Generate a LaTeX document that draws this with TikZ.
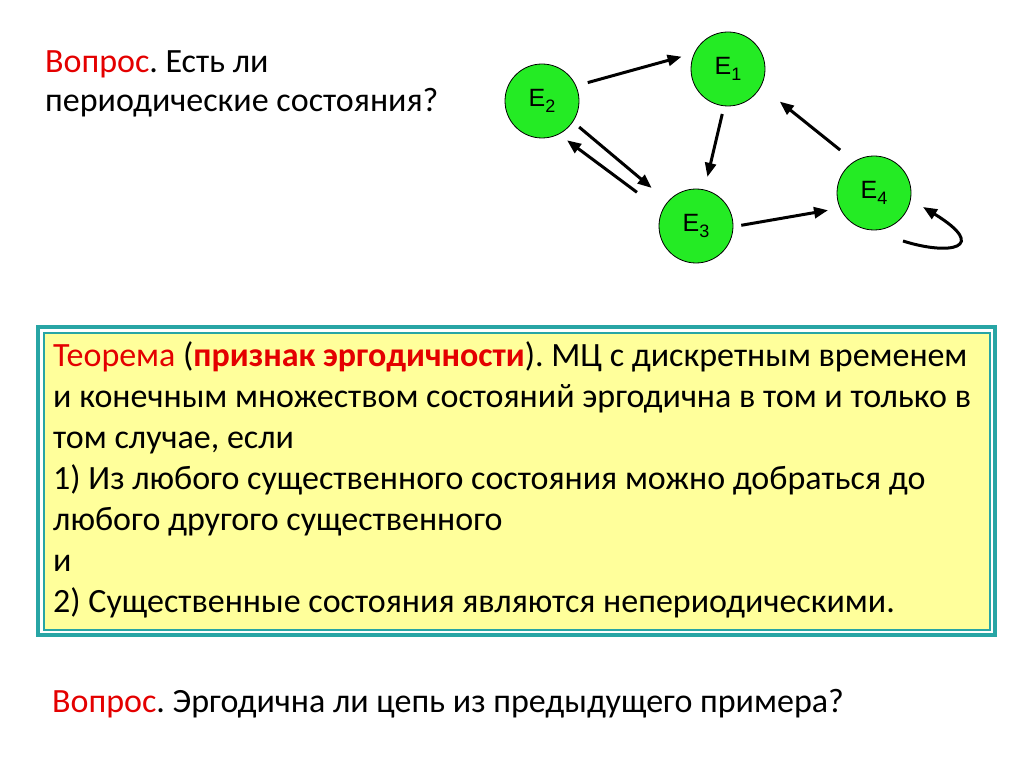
\documentclass[tikz,border=0pt]{standalone}
\usepackage{fontspec}
\setmainfont{Carlito}
\newfontfamily\statefont{Liberation Sans}
\usetikzlibrary{arrows.meta}
\definecolor{stategreen}{RGB}{36,235,36}
\definecolor{qred}{RGB}{228,0,0}
\definecolor{frameteal}{RGB}{40,165,165}
\definecolor{boxyellow}{RGB}{255,255,155}
\frenchspacing
\newcommand{\stsub}[1]{\raisebox{-6pt}{\fontsize{18}{18}\selectfont#1}}
\tikzset{
  state/.style={circle,draw=black,line width=0.8pt,fill=stategreen,minimum size=74pt,inner sep=0pt,
    font=\statefont\fontsize{25}{25}\selectfont},
  trans/.style={line width=3pt,-{Triangle[length=14pt,width=11pt]}},
  plain/.style={font=\fontsize{34}{41}\selectfont,inner sep=0pt,anchor=base west},
}
\begin{document}
\begin{tikzpicture}[x=1pt,y=-1pt]
\useasboundingbox[fill=white] (0,0) rectangle (1024,767);
% question at the top
\node[plain] (q1a) at (45,73) {\textcolor{qred}{Вопрос}. Есть ли};
\node[plain] (q1b) at (45,112) {периодические состояния?};
% states of the chain
\node[state] (E1) at (728,69) {E\stsub{1}};
\node[state] (E2) at (542,101) {E\stsub{2}};
\node[state] (E3) at (696,226) {E\stsub{3}};
\node[state] (E4) at (874,193) {E\stsub{4}};
\draw[trans,shorten <=12pt,shorten >=13pt] (E2.24) -- (E1.155);
\draw[trans,shorten <=8pt,shorten >=13pt] (E1.-96) -- (E3.77);
\draw[trans,shorten <=18pt,shorten >=24pt] (E4.122) -- (E1.-28);
\draw[trans,shorten <=8pt,shorten >=21pt] (E2.-34) -- (E3.139);
\draw[trans,shorten <=31pt,shorten >=10pt] (E3.156) -- (E2.-63);
\draw[trans,shorten <=8pt,shorten >=12pt] (E3.-1) -- (E4.-156);
\coordinate (loopin) at ([shift={(29,48)}]E4.center);
\coordinate (loopout) at ([shift={(49,14)}]E4.center);
\draw[trans] (loopin) .. controls +(47,15) and +(67,41) .. (loopout);
% theorem box
\draw[frameteal,line width=4pt] (38,327) rectangle (995,635);
\draw[frameteal,line width=2pt,fill=boxyellow] (44,333) rectangle (990,630);
\node[plain] (thm0) at (53,366)
  {\textcolor{qred}{Теорема} (\textcolor{qred}{\bfseries признак эргодичности}). МЦ с дискретным временем};
\foreach \txt [count=\k] in {
  {и конечным множеством состояний эргодична в том и только в},
  {том случае, если},
  {1) Из любого существенного состояния можно добраться до},
  {любого другого существенного},
  {и},
  {2) Существенные состояния являются непериодическими.}}
  \node[plain] (thm\k) at (53,366+41*\k) {\txt};
% question at the bottom
\node[plain] (q2) at (52,712) {\textcolor{qred}{Вопрос}. Эргодична ли цепь из предыдущего примера?};
\end{tikzpicture}
\end{document}
